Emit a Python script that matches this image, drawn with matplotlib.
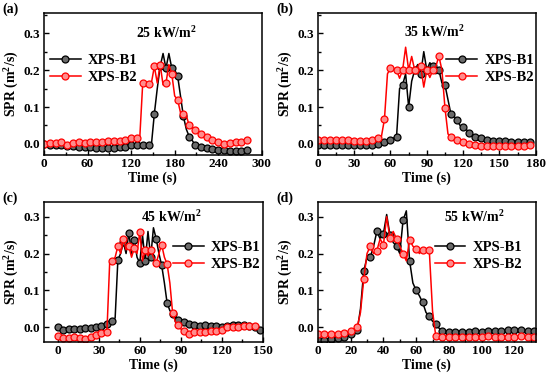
import numpy as np
import matplotlib.pyplot as plt
from matplotlib.ticker import MultipleLocator

plt.rcParams['font.family'] = ['Liberation Serif', 'DejaVu Serif']
plt.rcParams['font.weight'] = 'bold'
plt.rcParams['mathtext.fontset'] = 'custom'
plt.rcParams['mathtext.rm'] = 'Liberation Serif:bold'
plt.rcParams['mathtext.it'] = 'Liberation Serif:bold'
plt.rcParams['mathtext.bf'] = 'Liberation Serif:bold'

# sampling step (s) of each test
step_a, step_b, step_c, step_d = 4, 2.5, 2, 2

# (a) 25 kW/m2
a_b1 = [0.0, 0.0, -0.002, -0.002, -0.003, -0.004, -0.004, -0.005, -0.005, -0.006,
        -0.006, -0.007, -0.007, -0.008, -0.008, -0.009, -0.009, -0.010, -0.011, -0.012,
        -0.012, -0.013, -0.012, -0.012, -0.011, -0.010, -0.009, -0.008, -0.007, -0.005,
        -0.004, -0.004, -0.004, -0.003, -0.002, -0.001, -0.002, -0.001, 0.082, 0.15,
        0.21, 0.245, 0.205, 0.245, 0.205, 0.20, 0.185, 0.13, 0.075, 0.04,
        0.02, 0.01, -0.002, -0.006, -0.008, -0.010, -0.012, -0.014, -0.015, -0.016,
        -0.017, -0.017, -0.016, -0.016, -0.018, -0.020, -0.020, -0.019, -0.020, -0.018,
        -0.016, -0.015]
a_b2 = [0.0, 0.001, 0.002, 0.002, 0.003, 0.003, 0.004, 0.002, -0.002, 0.0,
        0.002, 0.004, 0.004, 0.002, 0.003, 0.005, 0.005, 0.006, 0.005, 0.004,
        0.005, 0.006, 0.008, 0.007, 0.009, 0.010, 0.009, 0.008, 0.010, 0.014,
        0.015, 0.016, 0.016, 0.020, 0.165, 0.165, 0.163, 0.166, 0.21, 0.165,
        0.215, 0.16, 0.165, 0.215, 0.19, 0.13, 0.12, 0.085, 0.08, 0.077,
        0.05, 0.045, 0.038, 0.03, 0.027, 0.02, 0.018, 0.013, 0.012, 0.008,
        0.005, 0.002, 0.0, 0.002, 0.003, 0.003, 0.004, 0.005, 0.004, 0.007,
        0.010, 0.009]

# (b) 35 kW/m2
b_b1 = [-0.003, -0.003, -0.003, -0.004, -0.004, -0.004, -0.003, -0.003, -0.004, -0.004,
        -0.004, -0.003, -0.003, -0.004, -0.004, -0.003, -0.003, -0.002, -0.002, -0.001,
        0.0, 0.002, 0.004, 0.008, 0.012, 0.016, 0.02, 0.15, 0.16, 0.19,
        0.10, 0.17, 0.20, 0.215, 0.19, 0.25, 0.20, 0.22, 0.21, 0.19,
        0.20, 0.165, 0.16, 0.12, 0.08, 0.075, 0.065, 0.05, 0.045, 0.04,
        0.03, 0.025, 0.02, 0.017, 0.015, 0.013, 0.012, 0.010, 0.009, 0.009,
        0.008, 0.008, 0.008, 0.007, 0.006, 0.005, 0.005, 0.005, 0.006, 0.008,
        0.006, 0.0]
b_b2 = [0.012, 0.012, 0.011, 0.011, 0.011, 0.011, 0.011, 0.011, 0.011, 0.010,
        0.010, 0.009, 0.009, 0.009, 0.008, 0.008, 0.008, 0.009, 0.010, 0.014,
        0.016, 0.020, 0.067, 0.19, 0.205, 0.205, 0.20, 0.178, 0.20, 0.262,
        0.20, 0.237, 0.20, 0.19, 0.21, 0.154, 0.20, 0.18, 0.20, 0.21,
        0.238, 0.20, 0.098, 0.027, 0.02, 0.015, 0.010, 0.007, 0.004, 0.002,
        0.0, -0.002, -0.003, -0.004, -0.005, -0.005, -0.005, -0.006, -0.006, -0.006,
        -0.006, -0.006, -0.006, -0.006, -0.006, -0.006, -0.006, -0.006, -0.006, -0.005,
        -0.003]

# (c) 45 kW/m2
c_b1 = [0.0, -0.005, -0.007, -0.006, -0.005, -0.005, -0.005, -0.005, -0.004, -0.004,
        -0.003, -0.002, -0.001, 0.0, 0.001, 0.002, 0.004, 0.006, 0.008, 0.012,
        0.018, 0.025, 0.183, 0.20, 0.23, 0.20, 0.257, 0.20, 0.238, 0.19,
        0.174, 0.25, 0.18, 0.26, 0.19, 0.27, 0.24, 0.20, 0.168, 0.12,
        0.065, 0.045, 0.035, 0.025, 0.02, 0.016, 0.013, 0.010, 0.008, 0.006,
        0.005, 0.003, 0.003, 0.004, 0.006, 0.005, 0.004, 0.003, 0.002, 0.001,
        0.0, 0.001, 0.002, 0.003, 0.005, 0.005, 0.006, 0.007, 0.006, 0.005,
        0.004, 0.002, 0.0, -0.003, -0.008]
c_b2 = [-0.025, -0.028, -0.030, -0.030, -0.030, -0.029, -0.028, -0.029, -0.030, -0.030,
        -0.031, -0.029, -0.027, -0.025, -0.022, -0.020, -0.017, -0.014, -0.012, 0.175,
        0.179, 0.19, 0.22, 0.20, 0.24, 0.21, 0.22, 0.19, 0.215, 0.20,
        0.259, 0.18, 0.21, 0.194, 0.21, 0.19, 0.174, 0.20, 0.224, 0.19,
        0.171, 0.12, 0.039, 0.015, 0.005, -0.005, -0.010, -0.015, -0.018, -0.013,
        -0.012, -0.013, -0.013, -0.012, -0.012, -0.011, -0.011, -0.010, -0.010, -0.009,
        -0.007, -0.003, 0.0, 0.0, 0.001, 0.0, 0.001, 0.002, 0.002, 0.003,
        0.003, 0.004, 0.004, 0.003]

# (d) 55 kW/m2
d_b1 = [-0.035, -0.035, -0.034, -0.033, -0.032, -0.031, -0.030, -0.028, -0.026, -0.024,
        -0.020, -0.015, -0.009, 0.05, 0.152, 0.19, 0.19, 0.22, 0.26, 0.24,
        0.254, 0.306, 0.25, 0.23, 0.22, 0.20, 0.29, 0.316, 0.18, 0.12,
        0.10, 0.085, 0.067, 0.04, 0.03, 0.016, 0.008, -0.003, -0.010, -0.012,
        -0.013, -0.012, -0.013, -0.012, -0.013, -0.013, -0.012, -0.010, -0.010, -0.011,
        -0.012, -0.011, -0.010, -0.011, -0.010, -0.012, -0.010, -0.008, -0.009, -0.008,
        -0.007, -0.008, -0.009, -0.010, -0.010, -0.010, -0.010]
d_b2 = [-0.020, -0.020, -0.020, -0.019, -0.019, -0.018, -0.018, -0.017, -0.016, -0.014,
        -0.010, -0.005, 0.0, 0.04, 0.13, 0.20, 0.22, 0.20, 0.208, 0.24,
        0.223, 0.30, 0.242, 0.26, 0.24, 0.22, 0.20, 0.18, 0.238, 0.22,
        0.212, 0.20, 0.21, 0.21, 0.21, 0.044, -0.025, -0.027, -0.027, -0.027,
        -0.027, -0.028, -0.027, -0.027, -0.027, -0.027, -0.028, -0.026, -0.027, -0.027,
        -0.027, -0.026, -0.025, -0.025, -0.026, -0.026, -0.027, -0.027, -0.027, -0.027,
        -0.026, -0.025, -0.025, -0.026, -0.027, -0.027, -0.027]

labels = ['(a)', '(b)', '(c)', '(d)']
fluxes = ['25', '35', '45', '55']
series = [(a_b1, a_b2, step_a), (b_b1, b_b2, step_b), (c_b1, c_b2, step_c), (d_b1, d_b2, step_d)]
xlims = [(0, 300), (0, 180), (-10, 150), (0, 133)]
ylims = [(-0.03, 0.355), (-0.03, 0.355), (-0.04, 0.34), (-0.04, 0.34)]
xmajor = [60, 30, 30, 20]
pos = [[0.080, 0.591, 0.396, 0.375], [0.578, 0.591, 0.396, 0.375],
       [0.080, 0.098, 0.398, 0.369], [0.578, 0.098, 0.396, 0.369]]
flux_xy = [(0.564, 0.86), (0.537, 0.866), (0.584, 0.893), (0.72, 0.893)]
leg_xy = [(0.028, 0.71), (0.59, 0.71), (0.59, 0.724), (0.537, 0.724)]
label_xy = [(0.005, 0.975), (0.503, 0.975), (0.005, 0.478), (0.503, 0.478)]

fig = plt.figure(figsize=(5.5, 3.79), dpi=100)

for i in range(4):
    b1, b2, dt = series[i]
    ax = fig.add_axes(pos[i])
    t1 = np.arange(len(b1)) * dt
    t2 = np.arange(len(b2)) * dt
    ax.plot(t1, b1, color='black', lw=1.1, marker='o', markersize=5.0, markevery=2,
            mfc='#6a6a6a', mec='black', mew=0.9, label='XPS-B1')
    ax.plot(t2, b2, color='red', lw=1.1, marker='o', markersize=5.0, markevery=2,
            mfc='#ff8c8c', mec='red', mew=0.9, label='XPS-B2')
    ax.set_xlim(*xlims[i])
    ax.set_ylim(*ylims[i])
    ax.xaxis.set_major_locator(MultipleLocator(xmajor[i]))
    ax.xaxis.set_minor_locator(MultipleLocator(xmajor[i] / 2))
    ax.yaxis.set_major_locator(MultipleLocator(0.1))
    ax.yaxis.set_minor_locator(MultipleLocator(0.05))
    ax.yaxis.set_major_formatter(plt.FormatStrFormatter('%.1f'))
    ax.tick_params(which='both', direction='in', labelsize=9.5, width=1.0)
    ax.tick_params(which='major', length=3.5, pad=2.5)
    ax.tick_params(which='minor', length=2)
    for s in ax.spines.values():
        s.set_linewidth(1.1)
    ax.set_xlabel('Time (s)', fontsize=10, fontweight='bold', labelpad=1)
    ax.set_ylabel('SPR (m$^2$/s)', fontsize=10, fontweight='bold', labelpad=2)
    ax.text(flux_xy[i][0], flux_xy[i][1], fluxes[i] + ' kW/m$^2$', transform=ax.transAxes,
            ha='center', va='center', fontsize=10, fontweight='bold')
    ax.legend(loc='upper left', bbox_to_anchor=leg_xy[i], frameon=False, fontsize=10.5,
              borderpad=0, borderaxespad=0, handlelength=2.1, handletextpad=0.5,
              labelspacing=0.25)
    fig.text(label_xy[i][0], label_xy[i][1], labels[i], fontsize=10, fontweight='bold',
             ha='left', va='center')

fig.savefig('out.png', dpi=100)
